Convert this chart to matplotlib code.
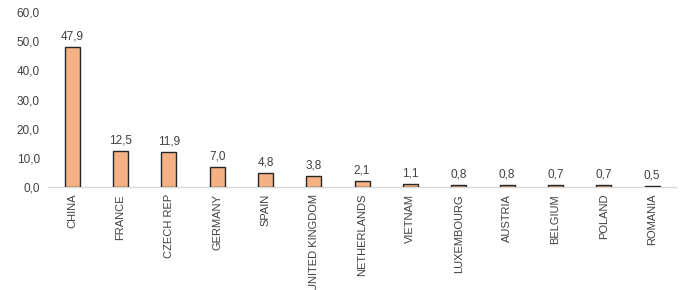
import matplotlib.pyplot as plt
import numpy as np

# Data
countries = ["CHINA", "FRANCE", "CZECH REP", "GERMANY", "SPAIN", "UNITED KINGDOM",
             "NETHERLANDS", "VIETNAM", "LUXEMBOURG", "AUSTRIA", "BELGIUM", "POLAND", "ROMANIA"]
values = [47.9, 12.5, 11.9, 7.0, 4.8, 3.8, 2.1, 1.1, 0.8, 0.8, 0.7, 0.7, 0.5]
yticks = [0, 10, 20, 30, 40, 50, 60]

plt.rcParams["font.family"] = ["Liberation Sans", "DejaVu Sans"]
text_color = "#404040"

fig = plt.figure(figsize=(7, 2.9), dpi=100)
ax = fig.add_axes([0.0686, 0.355, 0.8974, 0.6036])

x = np.arange(len(countries))
bars = ax.bar(x, values, width=0.31, color="#F4B183", edgecolor="#262626", linewidth=1.0, zorder=3)

for xi, v in zip(x, values):
    ax.text(xi, v + 1.5, f"{v:.1f}".replace(".", ","), ha="center", va="bottom",
            fontsize=8.5, color=text_color)

ax.set_xlim(-0.5, len(countries) - 0.5)
ax.set_ylim(0, 60)
ax.set_yticks(yticks)
ax.set_yticklabels([f"{t:.1f}".replace(".", ",") for t in yticks], fontsize=8.5, color=text_color)
ax.set_xticks(x)
ax.set_xticklabels(countries, rotation=90, fontsize=8, color=text_color)
ax.tick_params(axis="both", length=0)
ax.tick_params(axis="x", pad=5)
ax.tick_params(axis="y", pad=6)

for side in ["top", "right", "left"]:
    ax.spines[side].set_visible(False)
ax.spines["bottom"].set_color("#d9d9d9")
ax.spines["bottom"].set_linewidth(1.0)

fig.savefig("out.png", dpi=100)
